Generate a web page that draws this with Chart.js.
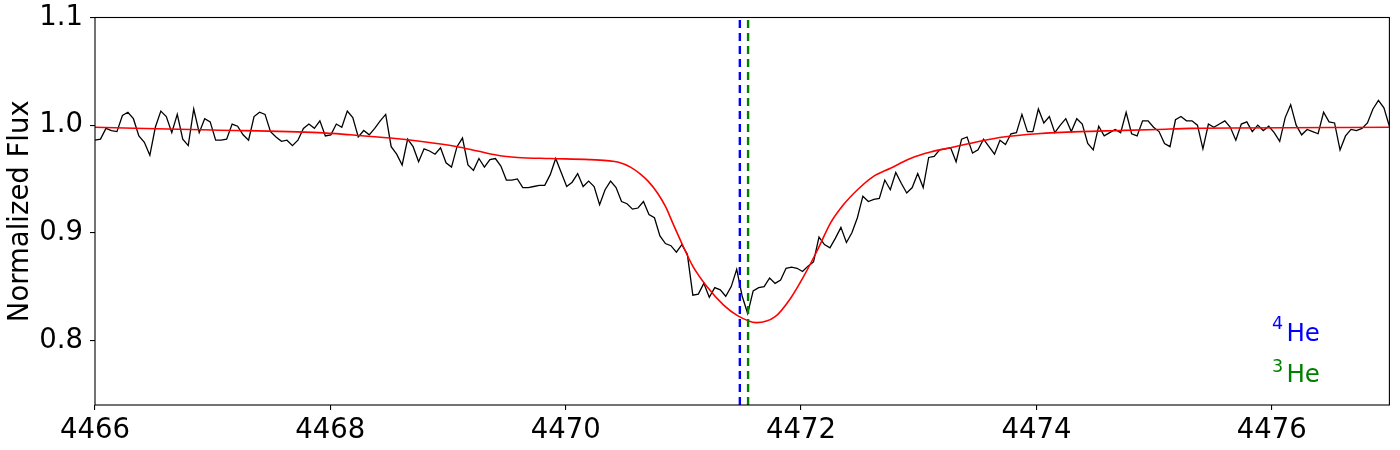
<!DOCTYPE html>
<html>
<head>
<meta charset="utf-8">
<script src="https://cdn.jsdelivr.net/npm/chart.js@4"></script>
<style>
    body { margin: 0; background: #fff; }
    #wrap { width: 1400px; height: 450px; }
</style>
</head>
<body>
<div id="wrap"><canvas id="specChart" width="1400" height="450"></canvas></div>
<script>
// observed spectrum, uniform grid from 4466 to 4477 A
const waveStart = 4466;
const waveStep = 11 / 236;
const fluxObs = [
    0.986, 0.987, 0.997, 0.995, 0.994, 1.009, 1.012, 1.006, 0.990, 0.984,
    0.972, 0.998, 1.013, 1.008, 0.993, 1.010, 0.987, 0.981, 1.015, 0.993,
    1.006, 1.003, 0.986, 0.986, 0.987, 1.001, 0.999, 0.991, 0.986, 1.008,
    1.012, 1.010, 0.994, 0.989, 0.985, 0.986, 0.981, 0.986, 0.997, 1.001,
    0.997, 1.004, 0.990, 0.991, 1.001, 0.998, 1.013, 1.007, 0.989, 0.995,
    0.991, 0.997, 1.004, 1.010, 0.980, 0.973, 0.963, 0.987, 0.980, 0.966,
    0.978, 0.976, 0.973, 0.979, 0.965, 0.961, 0.980, 0.988, 0.963, 0.958,
    0.969, 0.961, 0.968, 0.969, 0.962, 0.949, 0.949, 0.950, 0.942, 0.942,
    0.943, 0.944, 0.944, 0.954, 0.969, 0.956, 0.943, 0.947, 0.955, 0.943,
    0.948, 0.943, 0.926, 0.940, 0.948, 0.942, 0.929, 0.927, 0.922, 0.923,
    0.929, 0.917, 0.914, 0.897, 0.890, 0.888, 0.882, 0.889, 0.880, 0.842,
    0.843, 0.853, 0.840, 0.849, 0.847, 0.841, 0.850, 0.866, 0.841, 0.825,
    0.846, 0.849, 0.850, 0.858, 0.853, 0.856, 0.867, 0.868, 0.867, 0.864,
    0.869, 0.873, 0.896, 0.889, 0.886, 0.895, 0.905, 0.891, 0.900, 0.914,
    0.934, 0.929, 0.931, 0.932, 0.949, 0.940, 0.956, 0.946, 0.937, 0.942,
    0.955, 0.942, 0.970, 0.971, 0.977, 0.978, 0.979, 0.966, 0.987, 0.989,
    0.974, 0.977, 0.987, 0.980, 0.973, 0.986, 0.982, 0.992, 0.993, 1.010,
    0.994, 0.994, 1.015, 1.002, 1.008, 0.993, 1.000, 1.006, 0.994, 1.006,
    1.001, 0.983, 0.977, 0.999, 0.990, 0.993, 0.996, 0.993, 1.012, 0.992,
    0.990, 1.004, 1.004, 0.998, 0.994, 0.983, 0.980, 1.005, 1.008, 1.004,
    1.004, 1.000, 0.978, 1.001, 0.998, 1.001, 1.004, 0.998, 0.986, 1.001,
    1.003, 0.994, 1.000, 0.995, 0.999, 0.993, 0.985, 1.007, 1.019, 1.000,
    0.991, 0.996, 0.994, 0.992, 1.012, 1.003, 1.002, 0.977, 0.990, 0.996,
    0.995, 0.997, 1.002, 1.015, 1.023, 1.016, 0.999
];

// model fit
const modelWave = [
    4466.00, 4467.00, 4467.90, 4468.17, 4468.51, 4468.76, 4469.08, 4469.25,
    4469.42, 4469.59, 4469.87, 4470.20, 4470.35, 4470.45, 4470.55, 4470.63,
    4470.70, 4470.78, 4470.85, 4470.91, 4471.00, 4471.08, 4471.20, 4471.34,
    4471.46, 4471.62, 4471.78, 4471.91, 4472.02, 4472.14, 4472.25, 4472.36,
    4472.48, 4472.61, 4472.76, 4472.93, 4473.10, 4473.27, 4473.52, 4473.72,
    4474.01, 4474.37, 4474.71, 4475.03, 4475.31, 4477.00
];
const modelFlux = [
    0.998, 0.9955, 0.993, 0.991, 0.988, 0.985, 0.980, 0.976,
    0.972, 0.970, 0.969, 0.968, 0.967, 0.9655, 0.961, 0.955,
    0.948, 0.937, 0.924, 0.909, 0.887, 0.869, 0.850, 0.833,
    0.823, 0.8165, 0.822, 0.839, 0.859, 0.884, 0.909, 0.926,
    0.940, 0.952, 0.960, 0.969, 0.975, 0.979, 0.985, 0.989,
    0.992, 0.994, 0.995, 0.996, 0.997, 0.998
];

// line centres
const he4Wave = 4471.48;
const he3Wave = 4471.55;

// axes
const xRange = [4466, 4477];
const yRange = [0.74, 1.1];
const xTicks = [4466, 4468, 4470, 4472, 4474, 4476];
const yTicks = [0.8, 0.9, 1.0, 1.1];

document.addEventListener('DOMContentLoaded', function() {
    const FONT = "'DejaVu Sans', sans-serif";

    const obsPoints = fluxObs.map((f, i) => ({ x: waveStart + i * waveStep, y: f }));
    const modelPoints = modelWave.map((w, i) => ({ x: w, y: modelFlux[i] }));
    const vline = (w) => [{ x: w, y: yRange[0] }, { x: w, y: yRange[1] }];

    // frame + isotope labels
    const framePlugin = {
        id: 'frame',
        afterDatasetsDraw(chart) {
            const { ctx, chartArea: a } = chart;
            ctx.save();
            ctx.strokeStyle = '#000';
            ctx.lineWidth = 1.1;
            ctx.strokeRect(a.left, a.top, a.right - a.left, a.bottom - a.top);

            ctx.textAlign = 'left';
            ctx.textBaseline = 'alphabetic';
            const labels = [
                { sup: '4', color: '#0000ff', base: a.bottom - 64.3, supBase: a.bottom - 76 },
                { sup: '3', color: '#008000', base: a.bottom - 23.3, supBase: a.bottom - 33.5 }
            ];
            labels.forEach(l => {
                ctx.fillStyle = l.color;
                ctx.font = `17.5px ${FONT}`;
                ctx.fillText(l.sup, a.right - 117.5, l.supBase);
                ctx.font = `24.5px ${FONT}`;
                ctx.fillText('He', a.right - 103, l.base);
            });
            ctx.restore();
        }
    };

    const ctx = document.getElementById('specChart').getContext('2d');
    new Chart(ctx, {
        type: 'line',
        data: {
            datasets: [
                {
                    label: '4He',
                    data: vline(he4Wave),
                    borderColor: '#0000ff',
                    borderWidth: 2.4,
                    borderDash: [8, 5],
                    pointRadius: 0,
                    order: 0
                },
                {
                    label: '3He',
                    data: vline(he3Wave),
                    borderColor: '#008000',
                    borderWidth: 2.4,
                    borderDash: [8, 5],
                    pointRadius: 0,
                    order: 1
                },
                {
                    label: 'model',
                    data: modelPoints,
                    borderColor: '#ff0000',
                    borderWidth: 1.6,
                    pointRadius: 0,
                    cubicInterpolationMode: 'monotone',
                    order: 2
                },
                {
                    label: 'observed',
                    data: obsPoints,
                    borderColor: '#000000',
                    borderWidth: 1.3,
                    pointRadius: 0,
                    tension: 0,
                    order: 3
                }
            ]
        },
        options: {
            responsive: false,
            animation: false,
            layout: { padding: { left: 0, right: 10.6, top: 17.5, bottom: 0 } },
            scales: {
                x: {
                    type: 'linear',
                    min: xRange[0],
                    max: xRange[1],
                    afterBuildTicks: s => { s.ticks = xTicks.map(v => ({ value: v })); },
                    afterFit: s => { s.height = 45; s.paddingLeft = 0; s.paddingRight = 0; },
                    grid: {
                        drawOnChartArea: false,
                        drawTicks: true,
                        tickLength: 5,
                        tickColor: '#000',
                        lineWidth: 1.1
                    },
                    border: { display: false },
                    ticks: {
                        color: '#000',
                        padding: 4,
                        maxRotation: 0,
                        autoSkip: false,
                        font: { family: FONT, size: 27.5 },
                        callback: v => String(v)
                    }
                },
                y: {
                    type: 'linear',
                    min: yRange[0],
                    max: yRange[1],
                    afterBuildTicks: s => { s.ticks = yTicks.map(v => ({ value: v })); },
                    afterFit: s => { s.width = 95; s.paddingTop = 0; s.paddingBottom = 0; },
                    grid: {
                        drawOnChartArea: false,
                        drawTicks: true,
                        tickLength: 5,
                        tickColor: '#000',
                        lineWidth: 1.1
                    },
                    border: { display: false },
                    title: {
                        display: true,
                        text: 'Normalized Flux',
                        color: '#000',
                        padding: { top: 4.5, bottom: 0 },
                        font: { family: FONT, size: 27.5 }
                    },
                    ticks: {
                        color: '#000',
                        padding: 7,
                        autoSkip: false,
                        font: { family: FONT, size: 27.5 },
                        callback: v => v.toFixed(1)
                    }
                }
            },
            plugins: {
                legend: { display: false },
                tooltip: { enabled: false }
            }
        },
        plugins: [framePlugin]
    });
});
</script>
</body>
</html>
